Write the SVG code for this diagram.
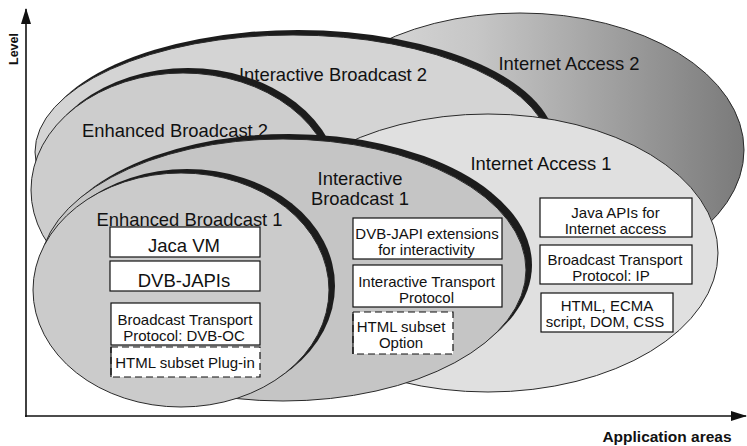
<svg xmlns="http://www.w3.org/2000/svg" width="747" height="446" viewBox="0 0 747 446">
<defs>
<linearGradient id="gIA2" x1="300" y1="0" x2="744" y2="0" gradientUnits="userSpaceOnUse">
<stop offset="0" stop-color="#e2e2e2"/>
<stop offset="0.4" stop-color="#c6c6c6"/>
<stop offset="1" stop-color="#7a7a7a"/>
</linearGradient>
<marker id="arr" markerUnits="userSpaceOnUse" markerWidth="16" markerHeight="10" refX="15" refY="5" orient="auto">
<path d="M0,0 L16,5 L0,10 Z" fill="#111"/>
</marker>
<style>
text{font-family:"Liberation Sans",Arial,Helvetica,sans-serif;fill:#111}
.lbl{font-size:18.4px;text-anchor:middle}
.bt{font-size:15px;text-anchor:middle}
.big{font-size:18.5px;text-anchor:middle}
.box{fill:#fff;stroke:#111;stroke-width:1.2}
.dbox{fill:#fff;stroke:#111;stroke-width:1.2;stroke-dasharray:7 4}
.solid{stroke:#111;stroke-width:1.2}
.edge{stroke:#2a2a2a;stroke-width:1}
.shd{fill:#1c1c1c}
.axis{stroke:#111;stroke-width:1.6;fill:none}
.ax{font-weight:bold;font-size:15.5px}
</style>
</defs>

<g id="internet-access-2">
<ellipse cx="520" cy="150" rx="224" ry="137" fill="url(#gIA2)" class="edge"/>
<text class="lbl" x="569" y="70" fill="#222">Internet Access 2</text>
</g>

<g id="interactive-broadcast-2">
<ellipse cx="298" cy="147" rx="258" ry="117" class="shd"/>
<ellipse cx="293" cy="152" rx="258" ry="117" fill="#d4d4d4" class="edge"/>
<text class="lbl" x="333" y="81">Interactive Broadcast 2</text>
</g>

<g id="internet-access-1">
<ellipse cx="488" cy="253" rx="230" ry="139" fill="#e0e0e0" class="edge"/>
<text class="lbl" x="541" y="170">Internet Access 1</text>
</g>

<g id="enhanced-broadcast-2">
<ellipse cx="188" cy="185" rx="152" ry="117" class="shd"/>
<ellipse cx="183" cy="190" rx="152" ry="117" fill="#cdcdcd" class="edge"/>
<text class="lbl" x="175" y="137">Enhanced Broadcast 2</text>
</g>

<g id="interactive-broadcast-1">
<ellipse cx="289" cy="265" rx="243" ry="131" class="shd"/>
<ellipse cx="283" cy="270" rx="243" ry="131" fill="#c5c5c5" class="edge"/>
<text class="lbl" x="360"><tspan x="360" y="185">Interactive</tspan><tspan x="360" y="205">Broadcast 1</tspan></text>
</g>

<g id="enhanced-broadcast-1">
<ellipse cx="187" cy="286" rx="148" ry="117" class="shd"/>
<ellipse cx="181" cy="290" rx="148" ry="117" fill="#cbcbcb" class="edge"/>
<text class="lbl" x="189.5" y="226">Enhanced Broadcast 1</text>
</g>

<g id="box-jaca-vm">
<rect class="box" x="110" y="227" width="150" height="30"/>
<text class="big" x="184" y="252">Jaca VM</text>
</g>
<g id="box-dvb-japis">
<rect class="box" x="110" y="261" width="150" height="30"/>
<text class="big" x="184" y="287">DVB-JAPIs</text>
</g>
<g id="box-btp-dvb-oc">
<rect class="box" x="111" y="303" width="149" height="42"/>
<text class="bt" x="185" y="325">Broadcast Transport</text>
<text class="bt" x="184" y="341">Protocol: DVB-OC</text>
</g>
<g id="box-html-plugin">
<rect class="dbox" x="111" y="347" width="149" height="30"/>
<line class="solid" x1="111" y1="347" x2="111" y2="377"/>
<text class="bt" x="185" y="368">HTML subset Plug-in</text>
</g>

<g id="box-dvb-japi-ext">
<rect class="box" x="353" y="218" width="149" height="41"/>
<text class="bt" x="427" y="239">DVB-JAPI extensions</text>
<text class="bt" x="426.5" y="255">for interactivity</text>
</g>
<g id="box-itp">
<rect class="box" x="353" y="265" width="149" height="42"/>
<text class="bt" x="426.5" y="287">Interactive Transport</text>
<text class="bt" x="426.5" y="303">Protocol</text>
</g>
<g id="box-html-option">
<rect class="dbox" x="353" y="312" width="100" height="42"/>
<line class="solid" x1="353" y1="312" x2="353" y2="354"/>
<text class="bt" x="401" y="332">HTML subset</text>
<text class="bt" x="401" y="348">Option</text>
</g>

<g id="box-java-apis">
<rect class="box" x="540" y="198" width="152" height="39"/>
<text class="bt" x="615.5" y="218">Java APIs for</text>
<text class="bt" x="615.5" y="234">Internet access</text>
</g>
<g id="box-btp-ip">
<rect class="box" x="540" y="245" width="152" height="39"/>
<text class="bt" x="615" y="265">Broadcast Transport</text>
<text class="bt" x="611" y="281">Protocol: IP</text>
</g>
<g id="box-html-ecma">
<rect class="box" x="541" y="293" width="132" height="39"/>
<text class="bt" x="607" y="311">HTML, ECMA</text>
<text class="bt" x="605" y="327">script, DOM, CSS</text>
</g>

<g id="connectors">
<line class="axis" x1="26" y1="417" x2="26" y2="9" marker-end="url(#arr)"/>
<line class="axis" x1="25" y1="416" x2="746" y2="416" marker-end="url(#arr)"/>
</g>

<g id="axis-labels">
<text class="ax" x="14" y="53" text-anchor="middle" transform="rotate(-90 14 49)" style="font-size:12.5px">Level</text>
<text class="ax" x="667" y="442" text-anchor="middle">Application areas</text>
</g>
</svg>
